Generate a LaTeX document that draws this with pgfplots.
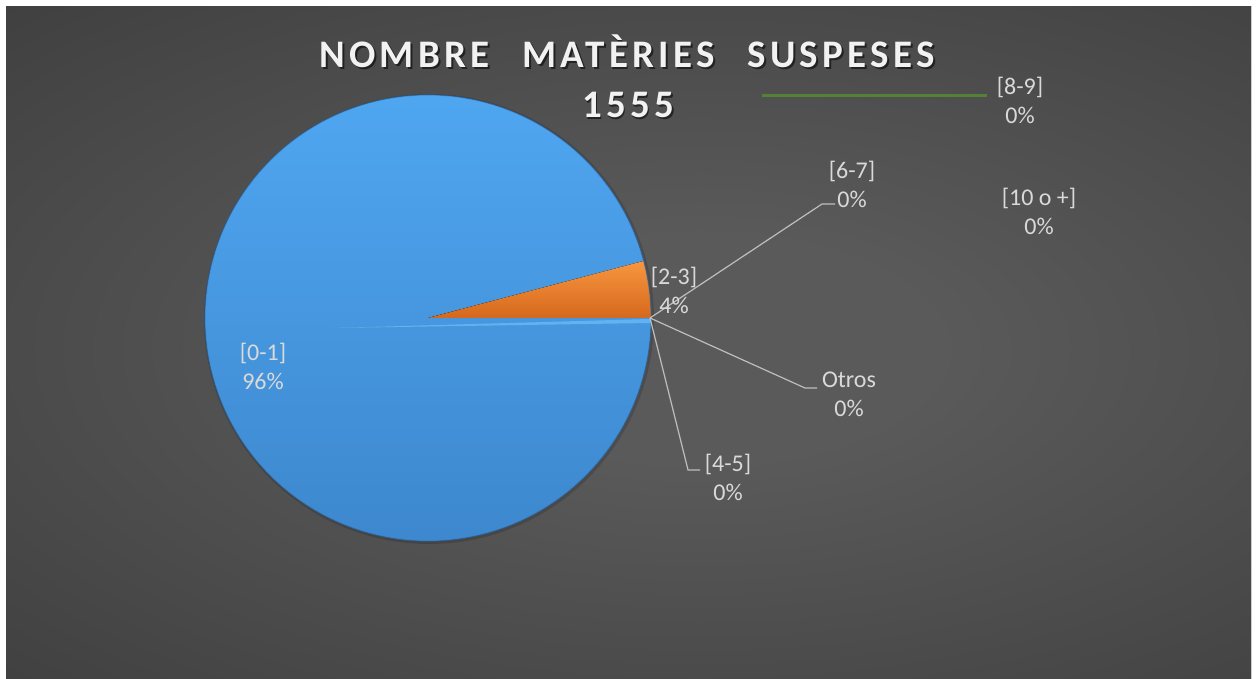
\documentclass[border=0pt]{standalone}
\usepackage{fontspec}
\setmainfont{Carlito}
\usepackage{pgfplots}
\pgfplotsset{compat=1.18}
\usepackage{pgfplotstable}
\definecolor{bgin}{RGB}{90,90,90}
\definecolor{bgmid}{RGB}{52,52,52}
\definecolor{bgout}{RGB}{38,38,38}
\definecolor{blueT}{RGB}{80,168,242}
\definecolor{blueB}{RGB}{60,134,204}
\definecolor{blueRim}{RGB}{50,112,176}
\definecolor{oraT}{RGB}{247,150,64}
\definecolor{oraB}{RGB}{214,104,28}
\definecolor{lab}{RGB}{217,217,217}
\definecolor{lead}{RGB}{190,190,190}
\definecolor{grn}{RGB}{84,130,53}
\definecolor{ttl}{RGB}{242,242,242}
\pgfdeclareradialshading{bgshade}{\pgfpoint{0bp}{0bp}}{color(0bp)=(bgin); color(8bp)=(bgin); color(46bp)=(bgmid); color(72bp)=(bgout)}
% counts per category (total 1555)
\pgfplotstableread{
cat count
01 1491
23 64
45 0
67 0
89 0
10 0
ot 0
}\piedata
\pgfplotstablegetelem{1}{count}\of\piedata
\pgfmathsetmacro{\angB}{\pgfplotsretval/1555*360}
\newcommand{\labfont}{\fontsize{12bp}{14.5bp}\selectfont}
\newcommand{\ttlfont}{\fontsize{19.5bp}{23bp}\selectfont\bfseries\addfontfeature{LetterSpace=11}}
\begin{document}
\begin{tikzpicture}
\begin{axis}[scale only axis, width=628bp, height=339.5bp,
  xmin=0, xmax=1256, ymin=0, ymax=679, hide axis, clip=false]
% background
\fill[white] (axis cs:0,0) rectangle (axis cs:1256,679);
\begin{scope}
\clip (axis cs:6,0) rectangle (axis cs:1251,672);
\fill[shading=bgshade] (axis cs:-40,-20) rectangle (axis cs:1440,680);
\end{scope}
% pie shadow
\fill[black, opacity=0.15] (axis cs:429,360) circle[radius=112.5bp];
% blue slice [0-1]
\fill[top color=blueT, bottom color=blueB] (axis cs:428,361) -- +(\angB:111.5bp) arc[start angle=\angB, end angle=360, radius=111.5bp] -- cycle;
% highlight sliver
\fill[color={rgb,255:red,110;green,190;blue,250}, opacity=0.7] (axis cs:333,351) -- (axis cs:650,360) -- (axis cs:650,356) -- cycle;
% orange slice [2-3]
\fill[top color=oraT, bottom color=oraB] (axis cs:428,361) -- +(0:111.5bp) arc[start angle=0, end angle=\angB, radius=111.5bp] -- cycle;
\draw[blueRim, line width=0.6bp, opacity=0.5] (axis cs:428,361) circle[radius=111.5bp];
% title
\node[anchor=base, text=black, opacity=0.55, font=\ttlfont, xshift=0.9bp, yshift=-0.9bp] at (axis cs:627,611) {NOMBRE\hspace{0.5em} MATÈRIES\hspace{0.5em} SUSPESES};
\node[anchor=base, text=ttl, font=\ttlfont] at (axis cs:627,611) {NOMBRE\hspace{0.5em} MATÈRIES\hspace{0.5em} SUSPESES};
\node[anchor=base, text=black, opacity=0.55, font=\ttlfont, xshift=0.9bp, yshift=-0.9bp] at (axis cs:628,561) {1555};
\node[anchor=base, text=ttl, font=\ttlfont] at (axis cs:628,561) {1555};
% leader lines
\draw[lead, line width=0.6bp] (axis cs:650,361) -- (axis cs:822,475) -- (axis cs:835,475);
\draw[lead, line width=0.6bp] (axis cs:650,361) -- (axis cs:805,291) -- (axis cs:817,291);
\draw[lead, line width=0.6bp] (axis cs:650,361) -- (axis cs:688,209) -- (axis cs:700,209);
\draw[grn, line width=1.5bp] (axis cs:762,583) -- (axis cs:987,583);
% labels
\node[align=center, text=lab, font=\labfont] at (axis cs:263,313) {[0-1]\\96\%};
\node[align=center, text=lab, font=\labfont] at (axis cs:674,389) {[2-3]\\4\%};
\node[align=center, text=lab, font=\labfont] at (axis cs:849,285) {Otros\\0\%};
\node[align=center, text=lab, font=\labfont] at (axis cs:728,202) {[4-5]\\0\%};
\node[align=center, text=lab, font=\labfont] at (axis cs:852,495) {[6-7]\\0\%};
\node[align=center, text=lab, font=\labfont] at (axis cs:1020,579) {[8-9]\\0\%};
\node[align=center, text=lab, font=\labfont] at (axis cs:1039,468) {[10 o +]\\0\%};
\end{axis}
\end{tikzpicture}
\end{document}
